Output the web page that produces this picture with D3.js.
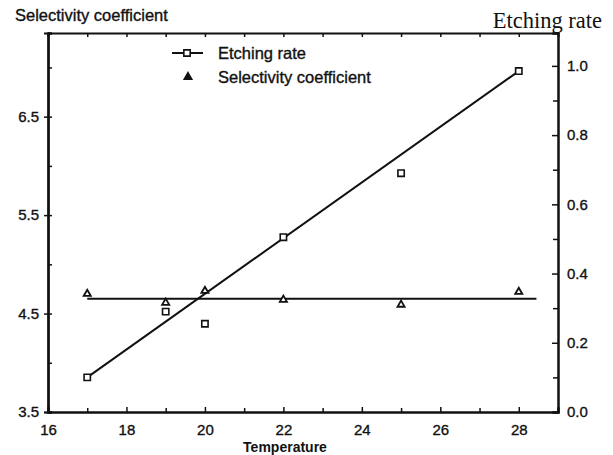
<!DOCTYPE html>
<html>
<head>
<meta charset="utf-8">
<script src="https://cdn.jsdelivr.net/npm/d3@7"></script>
<style>
  body { margin: 0; background: #fff; }
  text { font-family: "Liberation Sans", Arial, sans-serif; fill: #111; }
  .heavy { stroke: #111; stroke-width: 0.35px; }
</style>
</head>
<body>
<script>
// temperature readings
var temps = [17, 19, 20, 22, 25, 28];
// etching rate, right axis
var etchRate = [0.10, 0.29, 0.255, 0.505, 0.69, 0.985];
// selectivity coefficient, left axis
var selectivity = [4.70, 4.61, 4.73, 4.64, 4.59, 4.72];
// fitted lines (end points)
var etchFitX = [17, 28];
var etchFitY = [0.10, 0.985];
var selFitX = [17, 28.45];
var selFitY = [4.65, 4.65];

var xTicks = [16, 18, 20, 22, 24, 26, 28];
var leftTicks = [3.5, 4.5, 5.5, 6.5];
var leftMinor = [4.0, 5.0, 6.0, 7.0];
var rightTicks = [0.0, 0.2, 0.4, 0.6, 0.8, 1.0];
var rightMinor = [0.1, 0.3, 0.5, 0.7, 0.9];

var width = 613, height = 455;
var mLeft = 48, mRight = 558, mTop = 33, mBottom = 412;

var svg = d3.select("body").append("svg")
  .attr("width", width)
  .attr("height", height);

var x = d3.scaleLinear().domain([16, 29]).range([mLeft, mRight]);
var yL = d3.scaleLinear().domain([3.5, 7.35]).range([mBottom, mTop]);
var yR = d3.scaleLinear().domain([0, 1.095]).range([mBottom, mTop]);

function styleAxis(g) {
  g.select(".domain").attr("stroke", "#111").attr("stroke-width", 2);
  g.selectAll(".tick line").attr("stroke", "#111").attr("stroke-width", 1.5);
  g.selectAll("text").attr("font-size", 15).attr("fill", "#111")
    .attr("class", "heavy")
    .attr("font-family", "Liberation Sans, Arial, sans-serif");
}

// bottom axis
svg.append("g")
  .attr("transform", "translate(0," + mBottom + ")")
  .call(d3.axisBottom(x).tickValues(xTicks).tickSize(-5).tickPadding(12).tickFormat(d3.format("d")))
  .call(styleAxis);
svg.append("g")
  .attr("transform", "translate(0," + mBottom + ")")
  .call(d3.axisBottom(x).tickValues(d3.range(17, 29, 2)).tickSize(-4).tickFormat(""))
  .call(styleAxis);

// top axis (frame)
svg.append("g")
  .attr("transform", "translate(0," + mTop + ")")
  .call(d3.axisTop(x).tickValues(d3.range(17, 29, 1)).tickSize(-4).tickFormat(""))
  .call(styleAxis);

// left axis
svg.append("g")
  .attr("transform", "translate(" + mLeft + ",0)")
  .call(d3.axisLeft(yL).tickValues(leftTicks).tickSize(4).tickPadding(5).tickFormat(d3.format(".1f")))
  .call(styleAxis);
svg.append("g")
  .attr("transform", "translate(" + mLeft + ",0)")
  .call(d3.axisLeft(yL).tickValues(leftTicks).tickSize(-4).tickFormat(""))
  .call(styleAxis);
svg.append("g")
  .attr("transform", "translate(" + mLeft + ",0)")
  .call(d3.axisLeft(yL).tickValues(leftMinor).tickSize(-4).tickFormat(""))
  .call(styleAxis);

// right axis
svg.append("g")
  .attr("transform", "translate(" + mRight + ",0)")
  .call(d3.axisRight(yR).tickValues(rightTicks).tickSize(-6).tickPadding(9).tickFormat(d3.format(".1f")))
  .call(styleAxis);
svg.append("g")
  .attr("transform", "translate(" + mRight + ",0)")
  .call(d3.axisRight(yR).tickValues(rightMinor).tickSize(-5).tickFormat(""))
  .call(styleAxis);

// fitted lines
var etchLine = d3.line().x(d => x(d[0])).y(d => yR(d[1]));
var selLine = d3.line().x(d => x(d[0])).y(d => yL(d[1]));

svg.append("path")
  .datum(d3.zip(etchFitX, etchFitY))
  .attr("d", etchLine)
  .attr("fill", "none").attr("stroke", "#111").attr("stroke-width", 2);

svg.append("path")
  .datum(d3.zip(selFitX, selFitY))
  .attr("d", selLine)
  .attr("fill", "none").attr("stroke", "#111").attr("stroke-width", 2);

var square = d3.symbol().type(d3.symbolSquare).size(40);
var triangle = d3.symbol().type(d3.symbolTriangle).size(22);

svg.append("g").selectAll("path")
  .data(d3.zip(temps, etchRate))
  .join("path")
  .attr("d", square)
  .attr("transform", d => "translate(" + x(d[0]) + "," + yR(d[1]) + ")")
  .attr("fill", "#fff").attr("stroke", "#111").attr("stroke-width", 1.6);

svg.append("g").selectAll("path")
  .data(d3.zip(temps, selectivity))
  .join("path")
  .attr("d", triangle)
  .attr("transform", d => "translate(" + x(d[0]) + "," + yL(d[1]) + ")")
  .attr("fill", "#fff").attr("stroke", "#111").attr("stroke-width", 1.8);

// legend
var lg = svg.append("g");
lg.append("line")
  .attr("x1", 172).attr("x2", 203).attr("y1", 53).attr("y2", 53)
  .attr("stroke", "#111").attr("stroke-width", 2);
lg.append("path").attr("d", square)
  .attr("transform", "translate(187,53)")
  .attr("fill", "#fff").attr("stroke", "#111").attr("stroke-width", 1.6);
lg.append("text").attr("class", "heavy").attr("x", 218).attr("y", 59)
  .attr("font-size", 16.5).text("Etching rate");
lg.append("path").attr("d", triangle)
  .attr("transform", "translate(188,77)")
  .attr("fill", "#111").attr("stroke", "#111").attr("stroke-width", 1.8);
lg.append("text").attr("class", "heavy").attr("x", 218).attr("y", 83)
  .attr("font-size", 16.5).text("Selectivity coefficient");

// axis titles
svg.append("text").attr("class", "heavy").attr("x", 15).attr("y", 21)
  .attr("font-size", 16.5)
  .text("Selectivity coefficient");
svg.append("text").attr("x", 602).attr("y", 28).attr("font-size", 22.5)
  .attr("text-anchor", "end")
  .style("font-family", "Liberation Serif, Times New Roman, serif")
  .text("Etching rate");
svg.append("text").attr("x", 285).attr("y", 452).attr("font-size", 14)
  .attr("font-weight", "bold").attr("text-anchor", "middle")
  .text("Temperature");
</script>
</body>
</html>
